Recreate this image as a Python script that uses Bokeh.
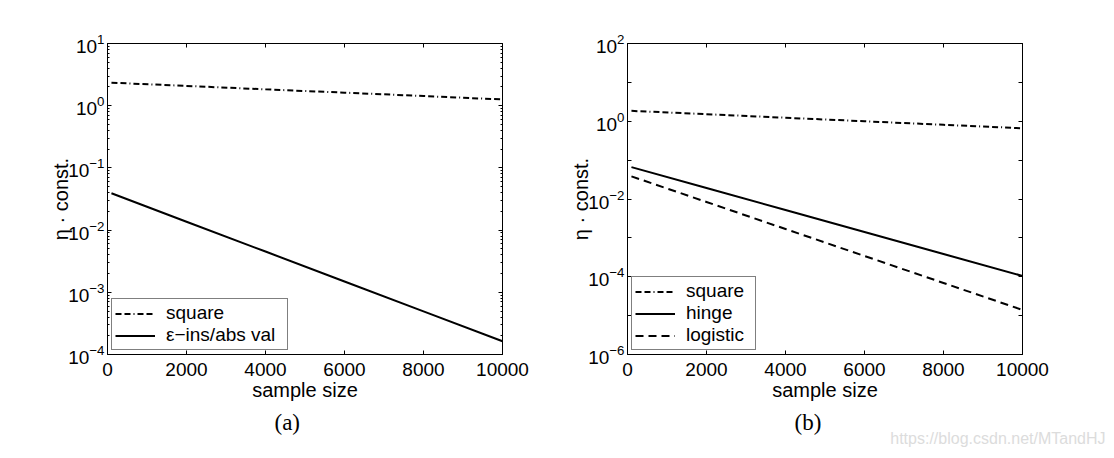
from bokeh.plotting import figure
from bokeh.models import Range1d, FixedTicker, LinearAxis, LogAxis, Title, CustomJSTickFormatter
from bokeh.layouts import row
from bokeh.embed import file_html
from bokeh.resources import INLINE

# ---- data ----
sample_size = [100, 2000, 4000, 6000, 8000, 10000]

a_square = [2.34, 2.08, 1.83, 1.62, 1.43, 1.26]
a_eps_ins = [0.0391, 0.01365, 0.00452, 0.00149, 4.93e-4, 1.63e-4]

b_square = [1.85, 1.52, 1.23, 1.00, 0.81, 0.66]
b_hinge = [0.0661, 0.0192, 0.00521, 0.00142, 3.85e-4, 1.05e-4]
b_logistic = [0.0382, 0.00838, 0.00169, 3.42e-4, 6.92e-5, 1.40e-5]

x_ticks = [0, 2000, 4000, 6000, 8000, 10000]
a_y_ticks = [1e-4, 1e-3, 1e-2, 1e-1, 1e0, 1e1]
a_y_minor = [m * 10.0 ** e for e in range(-4, 1) for m in range(2, 10)]
b_y_ticks = [1e-6, 1e-4, 1e-2, 1e0, 1e2]
b_y_minor = [1e-5, 1e-3, 1e-1, 1e1]

a_labels = ["square", "\u03b5\u2212ins/abs val"]
b_labels = ["square", "hinge", "logistic"]
captions = ["(a)", "(b)"]
watermark = "https://blog.csdn.net/MTandHJ"

SANS = "Liberation Sans"
SERIF = "Liberation Serif"
DASHDOT = "6 3 6 3 1 3"
DASHED = "8 5"

H = 456


def make_fig(width, ylo, yhi, bl, br, yticks, yminor, minor_len):
    p = figure(width=width, height=H, x_range=Range1d(0, 10000),
               y_range=Range1d(ylo, yhi), y_axis_type="log",
               output_backend="svg", toolbar_location=None, title=None,
               min_border_left=bl, min_border_right=br,
               min_border_top=43, min_border_bottom=102)
    p.xgrid.visible = False
    p.ygrid.visible = False
    p.outline_line_color = "black"
    p.outline_line_width = 1
    p.background_fill_color = "white"
    p.border_fill_color = "white"

    bottom = p.below[0]
    left = p.left[0]

    xt = FixedTicker(ticks=x_ticks, minor_ticks=[])
    yt = FixedTicker(ticks=yticks, minor_ticks=yminor)
    bottom.ticker = xt
    left.ticker = yt

    # extra axes for the box ticks (top and right)
    top = LinearAxis(ticker=xt, formatter=CustomJSTickFormatter(code="return ''"))
    right = LogAxis(ticker=yt, formatter=CustomJSTickFormatter(code="return ''"))
    p.add_layout(top, "above")
    p.add_layout(right, "right")

    for ax in [bottom, left, top, right]:
        ax.axis_line_color = "black"
        ax.axis_line_width = 1
        ax.major_tick_line_color = "black"
        ax.minor_tick_line_color = "black"
        ax.major_tick_in = 4
        ax.major_tick_out = 0
        ax.minor_tick_in = minor_len
        ax.minor_tick_out = 0
        ax.major_label_text_font = SANS
        ax.major_label_text_font_size = "19px"
        ax.major_label_text_color = "black"
        ax.axis_label_text_font = SANS
        ax.axis_label_text_font_size = "20px"
        ax.axis_label_text_font_style = "normal"
        ax.axis_label_text_color = "black"
    for ax in [top, right]:
        ax.major_label_text_font_size = "0px"
        ax.major_label_standoff = 0

    bottom.axis_label = "sample size"
    bottom.axis_label_standoff = 0
    bottom.major_label_standoff = 8
    left.axis_label = "\u03b7 \u00b7 const."
    left.axis_label_standoff = -7
    left.major_label_standoff = 3
    return p


def style_legend(p, label_width):
    lg = p.legend[0]
    lg.location = "bottom_left"
    lg.margin = 4
    lg.padding = 3
    lg.spacing = 0
    lg.label_height = 21
    lg.glyph_height = 21
    lg.glyph_width = 40
    lg.label_width = label_width
    lg.label_standoff = 11
    lg.label_text_font = SANS
    lg.label_text_font_size = "19px"
    lg.label_text_color = "black"
    lg.border_line_color = "black"
    lg.border_line_width = 1
    lg.background_fill_color = "white"
    lg.background_fill_alpha = 1.0


def caption(text):
    return Title(text=text, align="left", offset=167, standoff=8,
                 text_font=SERIF, text_font_size="23px",
                 text_font_style="normal", text_color="black")


# ---- panel (a) ----
p1 = make_fig(557, 1e-4, 1e1, 107, 55, a_y_ticks, a_y_minor, 2)
p1.line(sample_size, a_square, line_color="black", line_width=2,
        line_dash=DASHDOT, legend_label=a_labels[0])
p1.line(sample_size, a_eps_ins, line_color="black", line_width=2,
        legend_label=a_labels[1])
style_legend(p1, 118)
p1.add_layout(caption(captions[0]), "below")

# ---- panel (b) ----
p2 = make_fig(553, 1e-6, 1e2, 70, 88, b_y_ticks, b_y_minor, 4)
p2.line(sample_size, b_square, line_color="black", line_width=2,
        line_dash=DASHDOT, legend_label=b_labels[0])
p2.line(sample_size, b_hinge, line_color="black", line_width=2,
        legend_label=b_labels[1])
p2.line(sample_size, b_logistic, line_color="black", line_width=2,
        line_dash=DASHED, legend_label=b_labels[2])
style_legend(p2, 66)
p2.add_layout(caption(captions[1]), "below")
p2.add_layout(Title(text=watermark, align="right", offset=-83, standoff=-17,
                    vertical_align="top",
                    text_font=SANS, text_font_size="16px",
                    text_font_style="normal", text_color="#dcdcdc"), "below")

layout = row(p1, p2)
open("out.html", "w").write(file_html(layout, INLINE))
